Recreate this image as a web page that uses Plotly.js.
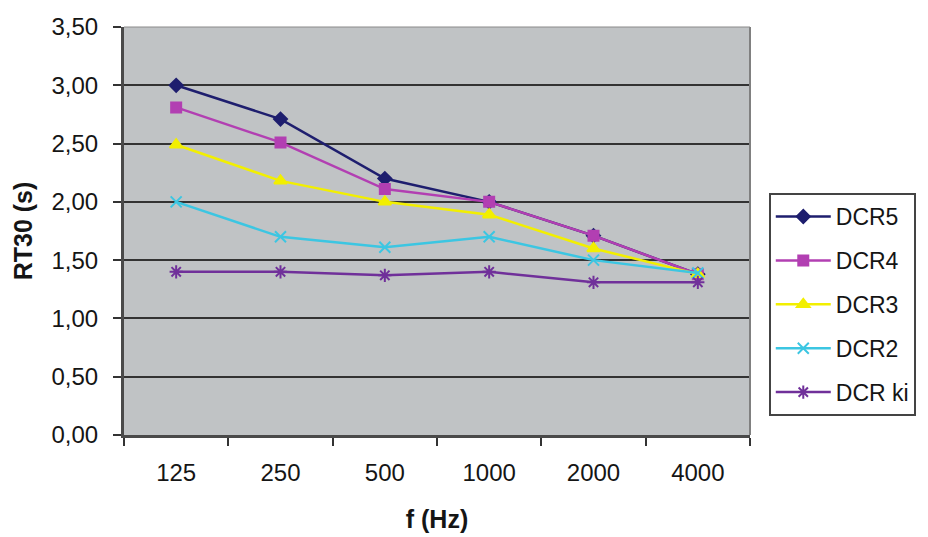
<!DOCTYPE html>
<html>
<head>
<meta charset="utf-8">
<script src="https://cdn.plot.ly/plotly-3.0.1.min.js"></script>
<style>html,body{margin:0;padding:0;background:#fff;}#chart{width:928px;height:537px;}</style>
</head>
<body>
<div id="chart"></div>
<script>
const frequencies = ['125', '250', '500', '1000', '2000', '4000'];
const dcr5 = [3.00, 2.71, 2.20, 2.00, 1.71, 1.38];
const dcr4 = [2.81, 2.51, 2.11, 2.00, 1.71, 1.38];
const dcr3 = [2.49, 2.18, 2.00, 1.89, 1.60, 1.38];
const dcr2 = [2.00, 1.70, 1.61, 1.70, 1.50, 1.39];
const dcrKi = [1.40, 1.40, 1.37, 1.40, 1.31, 1.31];
const seriesNames = ['DCR5', 'DCR4', 'DCR3', 'DCR2', 'DCR ki'];
const yTicks = [0, 0.5, 1, 1.5, 2, 2.5, 3, 3.5];

const colors = ['#1e1e6e', '#b23fb2', '#f2ef00', '#3cc6e2', '#70309a'];
const symbols = ['diamond', 'square', 'triangle-up', 'x-thin-open', 'asterisk-open'];
const sizes = [10, 10, 11, 11, 11];
const values = [dcr5, dcr4, dcr3, dcr2, dcrKi];

const traces = values.map((v, i) => ({
  x: frequencies,
  y: v,
  name: seriesNames[i],
  legendgroup: 'g' + i,
  type: 'scatter',
  mode: 'lines+markers',
  line: {color: colors[i], width: 2.5},
  marker: {symbol: symbols[i], size: sizes[i], color: colors[i], line: {color: colors[i], width: 2}}
}));

const fam = 'Liberation Sans, Arial, sans-serif';

const layout = {
  width: 928, height: 537,
  margin: {l: 124, r: 175, t: 27, b: 102},
  paper_bgcolor: '#ffffff',
  plot_bgcolor: '#c0c3c5',
  separators: ',.',
  showlegend: true,
  font: {family: fam, size: 24, color: '#151515'},
  xaxis: {
    type: 'category',
    tickvals: frequencies,
    ticktext: frequencies,
    tickson: 'boundaries',
    ticks: 'outside', ticklen: 8, tickcolor: '#333', tickwidth: 2,
    ticklabelstandoff: 14,
    showgrid: false,
    showline: true, linecolor: '#4a4a4a', linewidth: 3,
    range: [-0.5, 5.5],
    tickfont: {family: fam, size: 24, color: '#151515'},
    title: {text: '<b>f (Hz)</b>', font: {family: fam, size: 25, color: '#151515'}, standoff: 26},
    zeroline: false
  },
  yaxis: {
    range: [0, 3.5],
    tickvals: yTicks,
    tickformat: '.2f',
    ticks: 'outside', ticklen: 8, tickcolor: '#333', tickwidth: 2,
    ticklabelstandoff: 10,
    showgrid: true, gridcolor: '#333333', gridwidth: 2,
    showline: true, linecolor: '#4a4a4a', linewidth: 3,
    zeroline: false,
    tickfont: {family: fam, size: 24, color: '#151515'},
    title: {text: '<b>RT30 (s)</b>', font: {family: fam, size: 25, color: '#151515'}, standoff: 12}
  },
  legend: {
    x: 1.03, xanchor: 'left',
    y: 0.593, yanchor: 'top',
    bgcolor: '#ffffff',
    bordercolor: '#444', borderwidth: 2,
    font: {family: fam, size: 23, color: '#151515'},
    tracegroupgap: 11,
    itemwidth: 55
  },
  shapes: [{type: 'line', xref: 'paper', yref: 'paper', x0: 1, x1: 1, y0: 0, y1: 1, line: {color: '#808080', width: 2}},
           {type: 'line', xref: 'paper', yref: 'paper', x0: 0, x1: 1, y0: 1, y1: 1, line: {color: '#8a8a8a', width: 1}}]
};

Plotly.newPlot('chart', traces, layout, {staticPlot: true, displayModeBar: false});
</script>
</body>
</html>
